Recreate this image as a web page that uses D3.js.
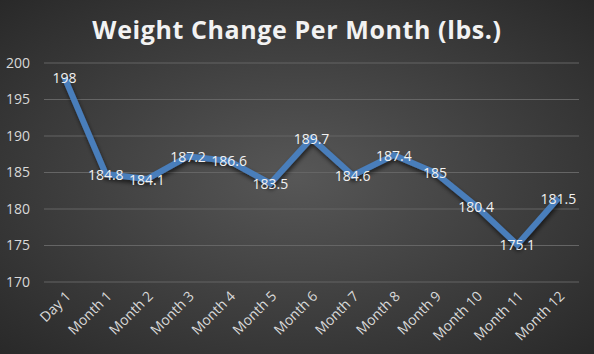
<!DOCTYPE html>
<html>
<head>
<meta charset="utf-8">
<script src="https://cdn.jsdelivr.net/npm/d3@7"></script>
<style>
  body { margin: 0; padding: 0; background: #333; }
  svg { display: block; }
</style>
</head>
<body>
<div id="chart"></div>
<script>
var categories = ["Day 1", "Month 1", "Month 2", "Month 3", "Month 4", "Month 5", "Month 6",
	"Month 7", "Month 8", "Month 9", "Month 10", "Month 11", "Month 12"];
var weights = [198, 184.8, 184.1, 187.2, 186.6, 183.5, 189.7, 184.6, 187.4, 185, 180.4, 175.1, 181.5];
var yTicks = [170, 175, 180, 185, 190, 195, 200];

var W = 594, H = 354;
var margin = {top: 63, right: 15, bottom: 72, left: 44},
	width = W - margin.left - margin.right,
	height = H - margin.top - margin.bottom;

var svg = d3.select("#chart").append("svg")
	.attr("width", W)
	.attr("height", H);

var defs = svg.append("defs");
var grad = defs.append("radialGradient").attr("id", "bg")
	.attr("cx", "50%").attr("cy", "50%").attr("r", "75%");
grad.append("stop").attr("offset", "0%").attr("stop-color", "#575757");
grad.append("stop").attr("offset", "100%").attr("stop-color", "#262626");

var shadow = defs.append("filter").attr("id", "shadow")
	.attr("x", "-10%").attr("y", "-10%").attr("width", "120%").attr("height", "130%");
shadow.append("feDropShadow").attr("dx", 1).attr("dy", 3).attr("stdDeviation", 2)
	.attr("flood-color", "#000").attr("flood-opacity", 0.6);

svg.append("rect").attr("width", W).attr("height", H).attr("fill", "url(#bg)");

svg.append("text")
	.attr("x", W / 2).attr("y", 39)
	.attr("text-anchor", "middle")
	.style("font", "bold 25px 'Open Sans', Lato, sans-serif")
	.style("letter-spacing", "0.6px")
	.style("fill", "#f2f2f2")
	.text("Weight Change Per Month (lbs.)");

var g = svg.append("g").attr("transform", "translate(" + margin.left + "," + margin.top + ")");

var x = d3.scaleBand().domain(categories).range([0, width]);
var y = d3.scaleLinear().domain([170, 200]).range([height, 0]);

// gridlines
g.selectAll(".grid").data(yTicks).enter().append("line")
	.attr("class", "grid")
	.attr("x1", 0).attr("x2", width)
	.attr("y1", function(d) { return y(d); })
	.attr("y2", function(d) { return y(d); })
	.attr("stroke", "#656565").attr("stroke-width", 1);

// y axis
var yAxis = d3.axisLeft(y).tickValues(yTicks).tickSize(0).tickPadding(14);
var ya = g.append("g").call(yAxis);
ya.select(".domain").remove();
ya.selectAll("text")
	.style("font", "14px 'Open Sans', Lato, sans-serif")
	.style("fill", "#d9d9d9");

// x axis
var xAxis = d3.axisBottom(x).tickSize(0).tickPadding(0);
var xa = g.append("g").attr("transform", "translate(0," + height + ")").call(xAxis);
xa.select(".domain").remove();
xa.selectAll("text")
	.style("font", "14px 'Open Sans', Lato, sans-serif")
	.style("fill", "#d9d9d9")
	.attr("text-anchor", "end")
	.attr("dy", null)
	.attr("y", 0)
	.attr("transform", "translate(7,15) rotate(-45)");

// line
var line = d3.line()
	.x(function(d, i) { return x(categories[i]) + x.bandwidth() / 2; })
	.y(function(d) { return y(d); });

g.append("path")
	.datum(weights)
	.attr("d", line)
	.attr("fill", "none")
	.attr("stroke", "#4a7ebb")
	.attr("stroke-width", 6)
	.attr("stroke-linejoin", "miter")
	.attr("filter", "url(#shadow)");

// labels
g.selectAll(".lbl").data(weights).enter().append("text")
	.attr("class", "lbl")
	.attr("x", function(d, i) { return x(categories[i]) + x.bandwidth() / 2; })
	.attr("y", function(d) { return y(d); })
	.attr("dy", "0.4em")
	.attr("text-anchor", "middle")
	.style("font", "14px 'Open Sans', Lato, sans-serif")
	.style("fill", "#f2f2f2")
	.text(function(d) { return d; });
</script>
</body>
</html>
